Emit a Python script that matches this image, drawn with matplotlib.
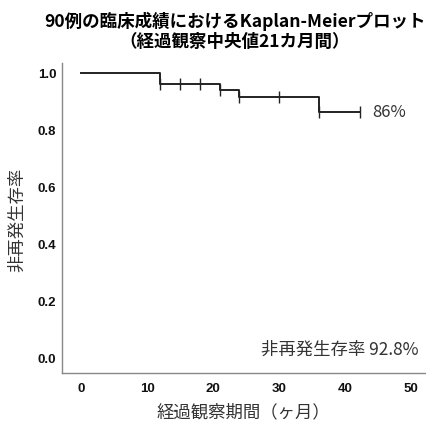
import matplotlib
matplotlib.use("Agg")
import matplotlib.pyplot as plt
from matplotlib.font_manager import FontProperties

plt.rcParams['font.family'] = ['Noto Sans CJK JP', 'DejaVu Sans']

# Data
event_times = [0, 12, 21, 24, 36]
survival = [1.0, 0.96, 0.941, 0.916, 0.862]
end_time = 42.2
censor_times = [12, 15, 18, 21, 24, 30, 36, 42.2]
x_ticks = [0, 10, 20, 30, 40, 50]
y_ticks = [0.0, 0.2, 0.4, 0.6, 0.8, 1.0]
title = "90例の臨床成績におけるKaplan-Meierプロット\n（経過観察中央値21カ月間）"
xlabel = "経過観察期間（ヶ月）"
ylabel = "非再発生存率"
end_label = "86%"
note = "非再発生存率 92.8%"

def surv_at(t):
    s = survival[0]
    for et, sv in zip(event_times, survival):
        if t >= et:
            s = sv
    return s

fig = plt.figure(figsize=(4.27, 4.26), dpi=100)
ax = fig.add_axes([0.145, 0.124, 0.85, 0.728])

xs = event_times + [end_time]
ys = survival + [survival[-1]]
ax.step(xs, ys, where='post', color='#222222', lw=1.4)
ax.plot(censor_times, [surv_at(t) for t in censor_times], ls='none',
        marker='|', ms=8, mew=1.0, color='#222222')

ax.set_xlim(-2.9, 52.1)
ax.set_ylim(-0.053, 1.035)
ax.set_xticks(x_ticks)
ax.set_yticks(y_ticks)
tick_fp = FontProperties(family='Liberation Sans', weight='bold', size=9.5)
ax.set_xticklabels([str(v) for v in x_ticks])
ax.set_yticklabels([f"{v:.1f}" for v in y_ticks])
for lab in ax.get_xticklabels() + ax.get_yticklabels():
    lab.set_fontproperties(tick_fp)
    lab.set_color('#111111')
ax.tick_params(length=0)
ax.tick_params(axis='x', pad=7)
ax.tick_params(axis='y', pad=4)
for s in ['top', 'right']:
    ax.spines[s].set_visible(False)
for s in ['left', 'bottom']:
    ax.spines[s].set_color('#888888')
    ax.spines[s].set_linewidth(1.0)

ax.text(44.1, survival[-1], end_label, fontsize=12, color='#333333',
        va='center', ha='left')
ax.text(51.1, 0.028, note, fontsize=12.5, color='#333333',
        va='center', ha='right')

ax.set_xlabel(xlabel, fontsize=12.5, color='#333333', labelpad=6)
ax.set_ylabel(ylabel, fontsize=12.5, color='#333333')
ax.yaxis.set_label_coords(-0.100, 0.494)

fig.text(0.55, 0.926, title, ha='center', va='center', fontsize=12.6,
         fontweight='bold', linespacing=1.1)

fig.savefig("out.png", dpi=100)
